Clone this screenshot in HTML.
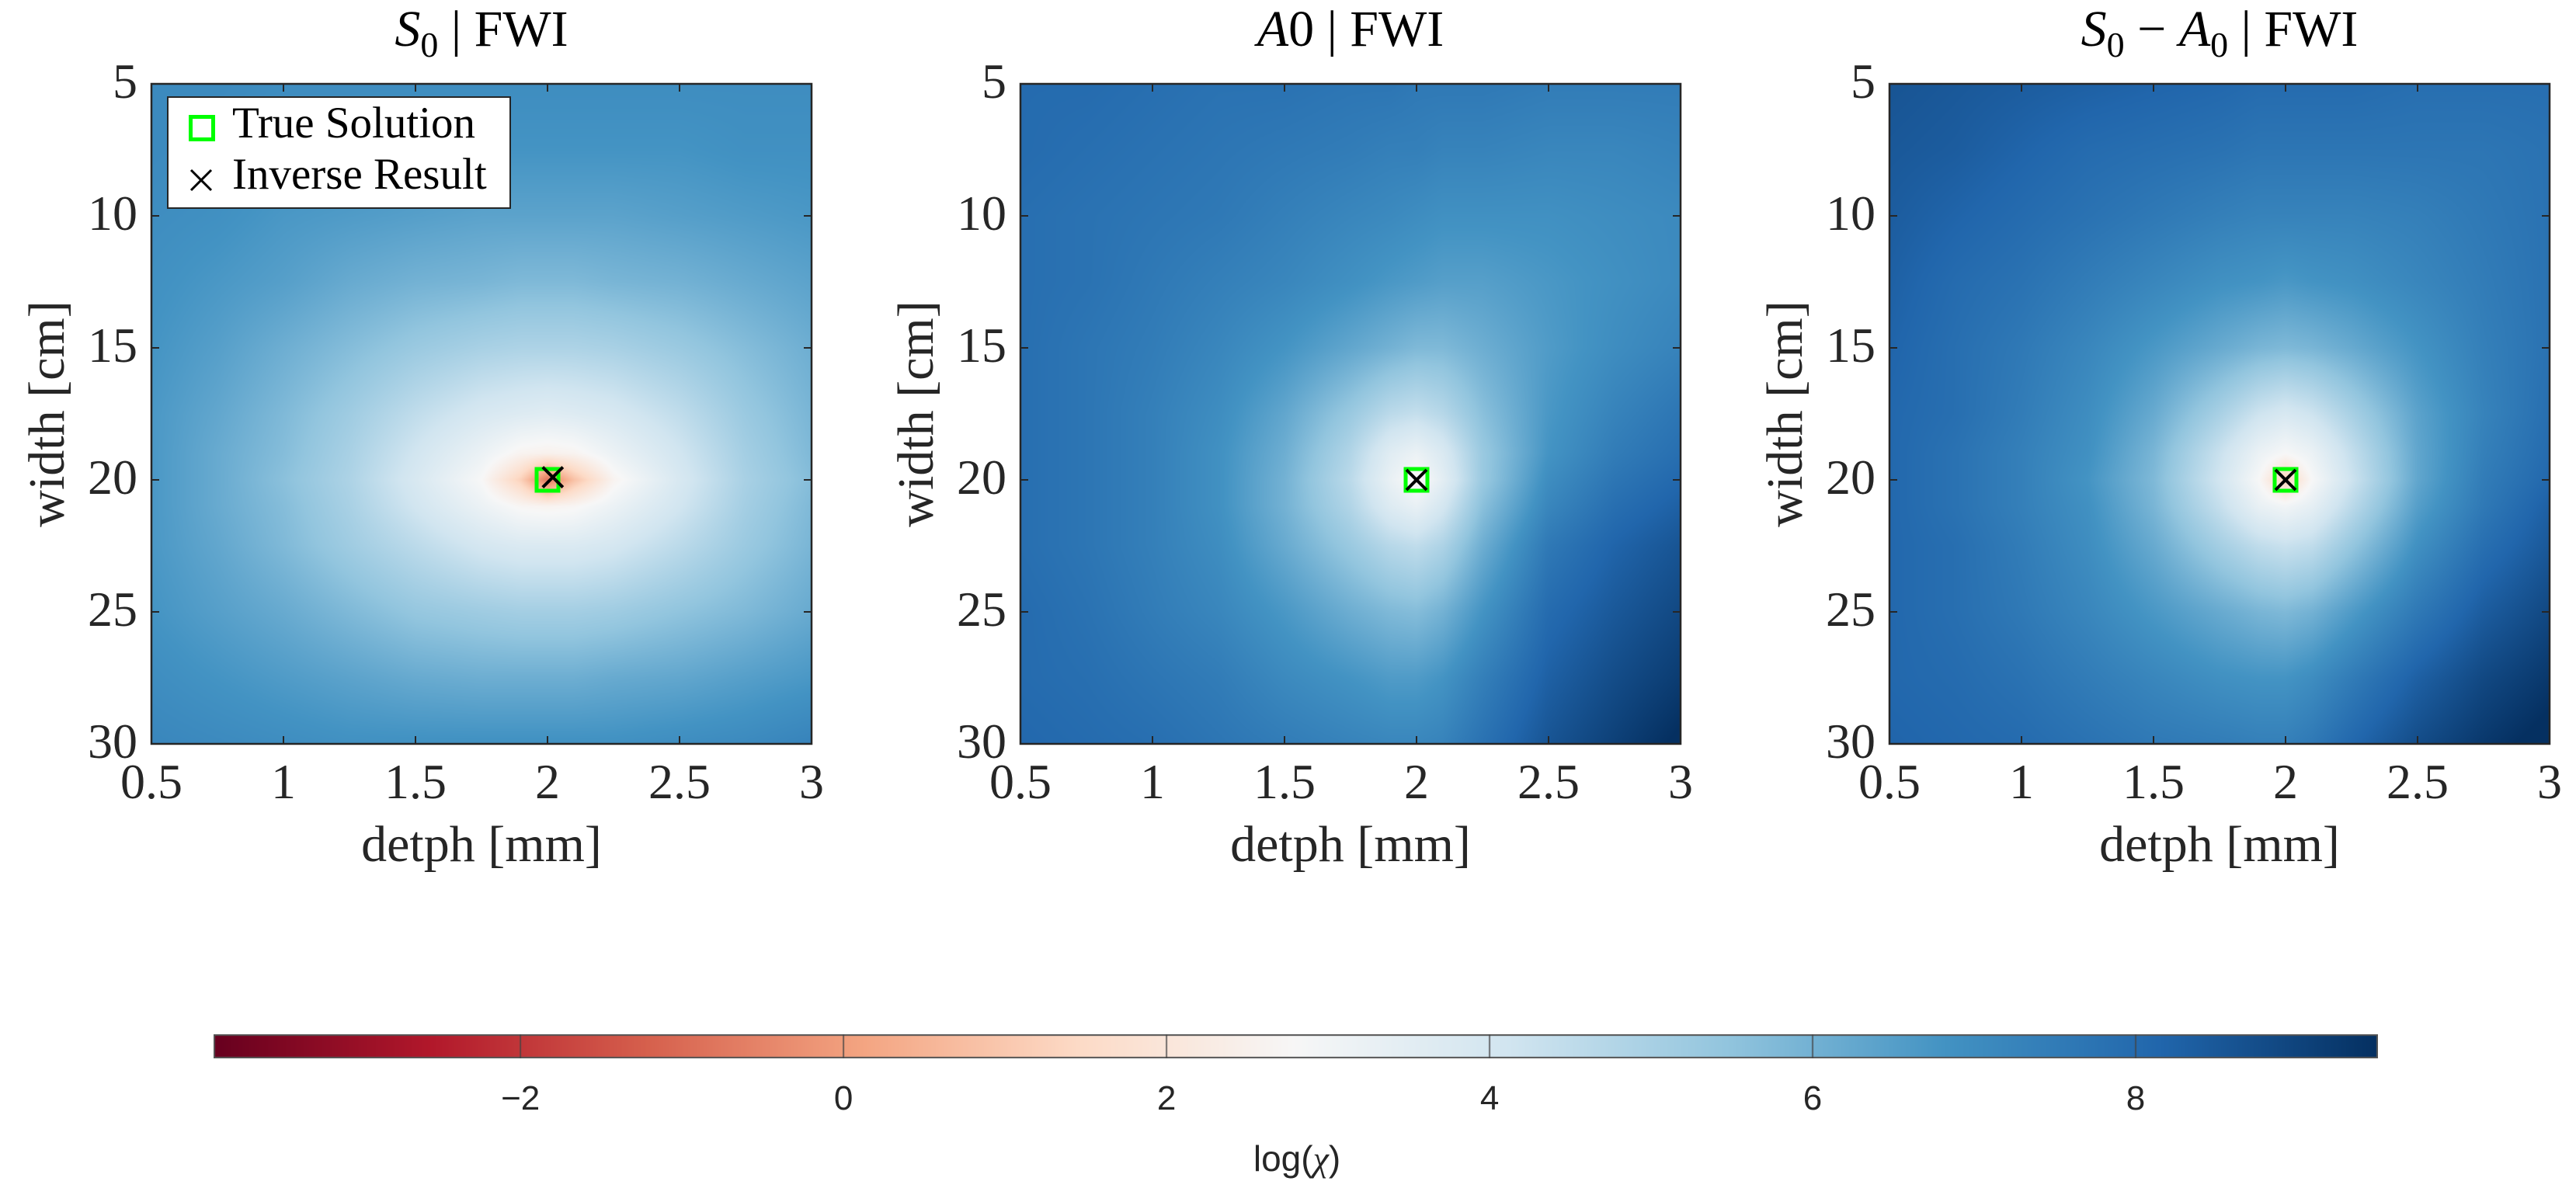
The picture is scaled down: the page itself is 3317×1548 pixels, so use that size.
<!DOCTYPE html>
<html><head><meta charset="utf-8">
<style>
html,body{margin:0;padding:0;background:#fff;}
#root{position:relative;width:3317px;height:1548px;overflow:hidden;background:#fff;font-family:"Liberation Serif",serif;color:#262626;}
.abs{position:absolute;}
.title{font-size:66px;color:#000;white-space:nowrap;transform:translateX(-50%);}
.tick{font-size:64px;white-space:nowrap;}
.lab{font-size:66px;white-space:nowrap;}
.cbt{font-family:"Liberation Sans",sans-serif;font-size:44px;transform:translateX(-50%);}
canvas{position:absolute;}
</style></head>
<body>
<div id="root">
<div id="panels"></div>
<div class="abs" style="left:215px;top:124px;width:443px;height:145px;background:#fff;border:2px solid #262626;box-sizing:border-box;">
  <div class="abs" style="left:0;top:0;height:70px;width:440px;">
    <div class="abs" style="left:26px;top:22px;width:24px;height:24px;border:5px solid #00ff00;"></div>
    <div class="abs" style="left:82px;top:0px;font-size:57px;color:#000;">True Solution</div>
  </div>
  <div class="abs" style="left:0;top:70px;height:70px;width:440px;">
    <svg class="abs" style="left:26px;top:20px" width="32" height="32"><path d="M3 3L29 29M29 3L3 29" stroke="#000" stroke-width="3"/></svg>
    <div class="abs" style="left:82px;top:-4px;font-size:57px;color:#000;">Inverse Result</div>
  </div>
</div>
<canvas id="cbar" width="2787" height="31" style="left:275px;top:1332px;"></canvas>
<div id="cbticks"></div>
<div class="abs" style="left:1670px;top:1465px;font-family:'Liberation Sans',sans-serif;font-size:46px;transform:translateX(-50%);">log(<i style="font-family:'Liberation Serif',serif">χ</i>)</div>
</div>
<script>
const xs=[0.5,0.75,1,1.25,1.5,1.75,1.9,2,2.1,2.25,2.5,2.75,3];
const ys=[5,7.5,10,12.5,15,17.5,19,20,21,22.5,25,27.5,30];
const xTicks=[0.5,1,1.5,2,2.5,3];
const yTicks=[5,10,15,20,25,30];
const cbTicks=[-2,0,2,4,6,8];
const cbMin=-3.9, cbMax=9.5;
const trueSol=[2,20];
const inv1=[2.02,19.9], inv2=[2,20], inv3=[2,20];
const S0=[
[7.1,7.1,7.0,7.0,7.0,7.0,7.0,7.0,7.0,7.0,7.0,7.0,7.0],
[7.1,7.0,6.9,6.9,6.8,6.8,6.8,6.8,6.8,6.8,6.8,6.9,6.9],
[7.0,6.9,6.7,6.6,6.5,6.4,6.4,6.4,6.4,6.4,6.5,6.6,6.7],
[6.9,6.7,6.5,6.2,6.0,5.9,5.8,5.8,5.8,5.9,6.0,6.2,6.4],
[6.8,6.5,6.1,5.7,5.3,5.0,4.9,4.9,4.9,5.0,5.3,5.7,6.1],
[6.7,6.3,5.8,5.2,4.5,3.9,3.7,3.6,3.7,3.9,4.5,5.3,5.9],
[6.7,6.2,5.7,5.0,4.1,3.2,2.6,2.5,2.6,3.2,4.1,5.1,5.8],
[6.7,6.2,5.6,4.9,3.9,2.8,1.2,-0.8,0.8,2.6,3.9,5.0,5.7],
[6.7,6.2,5.7,5.0,4.1,3.2,2.7,2.6,2.7,3.2,4.1,5.1,5.8],
[6.7,6.3,5.8,5.2,4.6,4.0,3.8,3.8,3.8,4.0,4.6,5.3,5.9],
[6.8,6.5,6.2,5.8,5.4,5.2,5.1,5.1,5.1,5.2,5.5,5.8,6.2],
[7.0,6.8,6.6,6.4,6.2,6.1,6.1,6.1,6.1,6.2,6.3,6.5,6.7],
[7.2,7.1,7.0,6.9,6.9,6.9,6.9,6.9,6.9,6.9,7.0,7.1,7.3]];
const A0=[
[8.0,8.0,7.9,7.8,7.8,7.7,7.7,7.6,7.6,7.6,7.5,7.5,7.5],
[8.0,7.9,7.8,7.7,7.6,7.5,7.4,7.4,7.3,7.3,7.2,7.2,7.3],
[7.9,7.8,7.7,7.6,7.4,7.2,7.1,7.0,6.9,6.9,6.9,7.0,7.1],
[7.9,7.8,7.6,7.4,7.2,6.9,6.7,6.6,6.5,6.5,6.7,6.9,7.1],
[7.9,7.7,7.5,7.2,6.8,6.3,6.0,5.8,5.8,6.1,6.6,7.0,7.3],
[7.9,7.7,7.4,7.0,6.3,5.3,4.6,4.4,4.7,5.6,6.7,7.3,7.7],
[7.9,7.7,7.4,6.9,6.1,4.8,3.6,3.2,3.8,5.3,6.8,7.5,7.9],
[7.9,7.7,7.4,6.9,6.0,4.6,3.3,2.6,3.5,5.3,7.0,7.7,8.1],
[7.9,7.7,7.4,6.9,6.0,4.8,3.7,3.3,4.0,5.6,7.2,7.9,8.3],
[7.9,7.7,7.4,7.0,6.2,5.3,4.7,4.5,4.9,6.1,7.6,8.2,8.6],
[8.0,7.8,7.5,7.2,6.7,6.1,5.8,5.7,6.0,6.8,8.0,8.5,8.9],
[8.0,7.9,7.7,7.5,7.1,6.8,6.6,6.6,6.8,7.4,8.3,8.8,9.2],
[8.1,8.0,7.9,7.7,7.5,7.3,7.2,7.2,7.3,7.8,8.6,9.1,9.6]];
const S0A0=[
[8.6,8.5,8.4,8.3,8.2,8.1,8.0,8.0,8.0,8.0,7.9,7.9,7.9],
[8.5,8.4,8.2,8.0,7.9,7.8,7.7,7.7,7.7,7.7,7.7,7.7,7.8],
[8.4,8.2,8.0,7.8,7.6,7.4,7.3,7.3,7.3,7.3,7.4,7.6,7.8],
[8.3,8.0,7.8,7.5,7.2,6.9,6.8,6.7,6.8,6.9,7.2,7.5,7.8],
[8.2,7.9,7.6,7.2,6.7,6.2,5.9,5.8,5.9,6.2,6.8,7.4,7.8],
[8.1,7.9,7.5,7.0,6.2,5.0,4.2,3.9,4.2,5.0,6.4,7.3,7.9],
[8.1,7.8,7.4,6.9,5.9,4.3,3.2,2.8,3.2,4.4,6.3,7.4,8.0],
[8.1,7.8,7.4,6.8,5.8,4.1,2.8,1.2,2.8,4.2,6.3,7.5,8.1],
[8.1,7.8,7.4,6.9,5.9,4.4,3.3,3.0,3.4,4.6,6.5,7.6,8.3],
[8.1,7.9,7.5,7.0,6.2,5.1,4.5,4.3,4.5,5.4,6.9,7.9,8.5],
[8.1,7.9,7.6,7.2,6.7,6.2,5.9,5.8,6.0,6.6,7.6,8.4,8.9],
[8.1,8.0,7.8,7.5,7.2,6.9,6.8,6.8,7.0,7.5,8.3,8.9,9.3],
[8.2,8.1,8.0,7.8,7.6,7.5,7.4,7.4,7.6,8.1,8.8,9.3,9.7]];

const stops=['67001f','b2182b','d6604d','f4a582','fddbc7','f7f7f7','d1e5f0','92c5de','4393c3','2166ac','053061'].map(h=>[parseInt(h.slice(0,2),16),parseInt(h.slice(2,4),16),parseInt(h.slice(4,6),16)]);
function cmap(v){let t=(v-cbMin)/(cbMax-cbMin);t=Math.max(0,Math.min(1,t))*(stops.length-1);const i=Math.min(stops.length-2,Math.floor(t));const f=t-i;const a=stops[i],b=stops[i+1];return [a[0]+(b[0]-a[0])*f,a[1]+(b[1]-a[1])*f,a[2]+(b[2]-a[2])*f];}
function idx(arr,v){for(let i=0;i<arr.length-1;i++){if(v<=arr[i+1])return i;}return arr.length-2;}
function sample(grid,x,y){const i=idx(xs,x),j=idx(ys,y);const fx=(x-xs[i])/(xs[i+1]-xs[i]),fy=(y-ys[j])/(ys[j+1]-ys[j]);
const a=grid[j][i],b=grid[j][i+1],c=grid[j+1][i],d=grid[j+1][i+1];return a*(1-fx)*(1-fy)+b*fx*(1-fy)+c*(1-fx)*fy+d*fx*fy;}

const PW=850,PH=850,PT=108;
const panels=[{left:195,grid:S0,inv:inv1,name:'s0',title:'<i>S</i><sub style="font-size:46px">0</sub> | FWI'},
{left:1314,grid:A0,inv:inv2,name:'a0',title:'<i>A</i>0 | FWI'},
{left:2433,grid:S0A0,inv:inv3,name:'s0-minus-a0',title:'<i>S</i><sub style="font-size:46px">0</sub> − <i>A</i><sub style="font-size:46px">0</sub> | FWI'}];
const root=document.getElementById('panels');
panels.forEach(p=>{
  const sx=v=>p.left+(v-0.5)/2.5*PW, sy=v=>PT+(v-5)/25*PH;
  const cv=document.createElement('canvas');cv.width=PW;cv.height=PH;cv.style.left=p.left+'px';cv.style.top=PT+'px';
  
  
  const ctx=cv.getContext('2d');const im=ctx.createImageData(PW,PH);
  for(let py=0;py<PH;py++){const y=5+(py+0.5)/PH*25;for(let px=0;px<PW;px++){const x=0.5+(px+0.5)/PW*2.5;const c=cmap(sample(p.grid,x,y));const k=(py*PW+px)*4;im.data[k]=c[0];im.data[k+1]=c[1];im.data[k+2]=c[2];im.data[k+3]=255;}}
  ctx.putImageData(im,0,0);root.appendChild(cv);
  const svg=document.createElementNS('http://www.w3.org/2000/svg','svg');
  svg.setAttribute('width',PW+4);svg.setAttribute('height',PH+4);svg.style.position='absolute';svg.style.left=(p.left-2)+'px';svg.style.top=(PT-2)+'px';svg.style.overflow='visible';
  
  
  let s=`<rect x="2" y="2" width="${PW}" height="${PH}" fill="none" stroke="#262626" stroke-width="2.5"/>`;
  xTicks.forEach(t=>{const x=sx(t)-p.left+2;s+=`<line x1="${x}" y1="2" x2="${x}" y2="12" stroke="#262626" stroke-width="2"/><line x1="${x}" y1="${PH+2}" x2="${x}" y2="${PH-8}" stroke="#262626" stroke-width="2"/>`;});
  yTicks.forEach(t=>{const y=sy(t)-PT+2;s+=`<line x1="2" y1="${y}" x2="12" y2="${y}" stroke="#262626" stroke-width="2"/><line x1="${PW+2}" y1="${y}" x2="${PW-8}" y2="${y}" stroke="#262626" stroke-width="2"/>`;});
  const tx=sx(trueSol[0])-p.left+2,ty=sy(trueSol[1])-PT+2;
  s+=`<rect x="${tx-14}" y="${ty-14}" width="28" height="28" fill="none" stroke="#00ff00" stroke-width="5"/>`;
  const ix=sx(p.inv[0])-p.left+2,iy=sy(p.inv[1])-PT+2;
  s+=`<path d="M${ix-13} ${iy-13}L${ix+13} ${iy+13}M${ix+13} ${iy-13}L${ix-13} ${iy+13}" stroke="#000" stroke-width="4"/>`;
  svg.innerHTML=s;root.appendChild(svg);
  xTicks.forEach(t=>{const d=document.createElement('div');d.className='abs tick';d.textContent=t;d.style.left=sx(t)+'px';d.style.top='970px';d.style.transform='translateX(-50%)';
    
    root.appendChild(d);});
  yTicks.forEach(t=>{const d=document.createElement('div');d.className='abs tick';d.textContent=t;d.style.right=(3317-p.left+18)+'px';d.style.top=(sy(t)-40)+'px';
    
    root.appendChild(d);});
  const ti=document.createElement('div');ti.className='abs title';ti.innerHTML=p.title;ti.style.left=(p.left+PW/2)+'px';ti.style.top='0px';
  
  root.appendChild(ti);
  const xl=document.createElement('div');xl.className='abs lab';xl.textContent='detph [mm]';xl.style.left=(p.left+PW/2)+'px';xl.style.top='1050px';xl.style.transform='translateX(-50%)';
  
  root.appendChild(xl);
  const yl=document.createElement('div');yl.className='abs lab';yl.textContent='width [cm]';yl.style.left=(p.left-134)+'px';yl.style.top=(PT+PH/2)+'px';yl.style.transform='translate(-50%,-50%) rotate(-90deg)';
  
  root.appendChild(yl);
});
const cb=document.getElementById('cbar');const cctx=cb.getContext('2d');
for(let px=0;px<cb.width;px++){const v=cbMin+(px+0.5)/cb.width*(cbMax-cbMin);const c=cmap(v);cctx.fillStyle=`rgb(${c[0]|0},${c[1]|0},${c[2]|0})`;cctx.fillRect(px,0,1,cb.height);}
cctx.strokeStyle='#555';cctx.lineWidth=2;cctx.strokeRect(1,1,cb.width-2,cb.height-2);
const cbx=v=>275+(v-cbMin)/(cbMax-cbMin)*2787;
const ct=document.getElementById('cbticks');
cbTicks.forEach(t=>{
  cctx.strokeStyle='#444';cctx.lineWidth=1.5;const x=cbx(t)-275;cctx.beginPath();cctx.moveTo(x,0);cctx.lineTo(x,cb.height);cctx.stroke();
  const d=document.createElement('div');d.className='abs cbt';d.textContent=t<0?'−'+(-t):String(t);d.style.left=cbx(t)+'px';d.style.top='1390px';
  
  ct.appendChild(d);});
</script>
</body></html>
